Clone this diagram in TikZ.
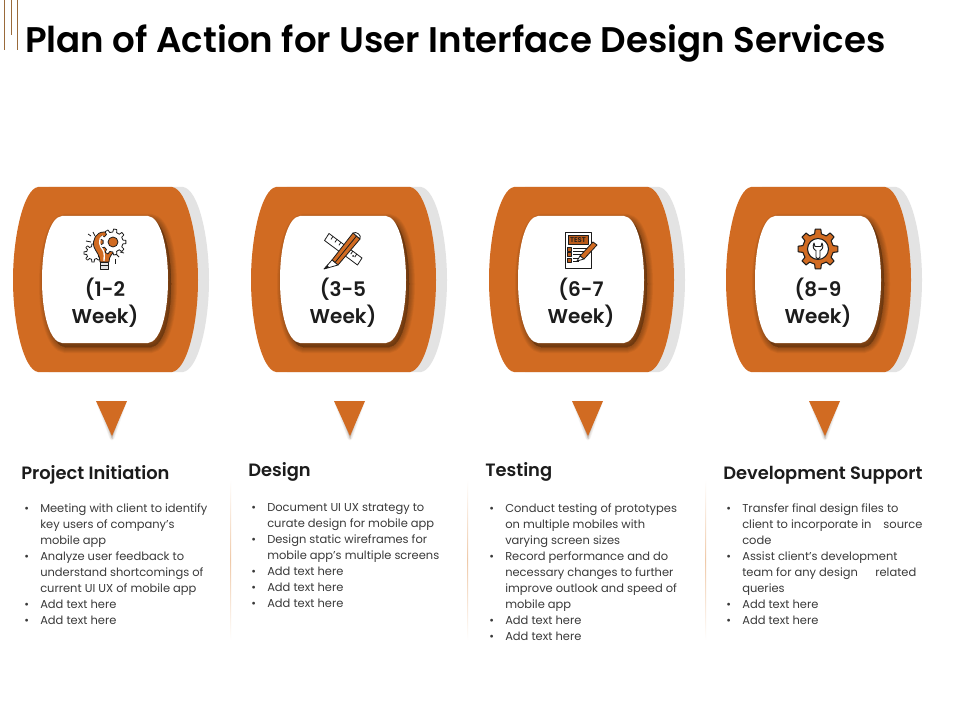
\documentclass[tikz,border=0pt]{standalone}
\usepackage{fontspec}
\usetikzlibrary{calc}
\setmainfont{Poppins}[BoldFont={Poppins SemiBold}]
\definecolor{org}{HTML}{D16B22}
\definecolor{orgd}{HTML}{B85A1A}
\definecolor{shade1}{HTML}{E3E3E3}
\definecolor{shad}{HTML}{4A2A10}
\definecolor{ink}{HTML}{1C1C1C}
\definecolor{txt}{HTML}{3A3A3A}
\definecolor{deco}{HTML}{9A6A3A}
\definecolor{sepc}{HTML}{EFC9A8}
\tikzset{
  x=0.75pt,y=-0.75pt,
  titletext/.style={anchor=base west,inner sep=0,font=\bfseries\fontsize{26.7}{30}\selectfont,text=black},
  headtext/.style={anchor=base west,inner sep=0,font=\fontsize{13.4}{16}\selectfont\bfseries,text=ink},
  weektext/.style={align=center,inner sep=0,font=\bfseries\fontsize{15}{20.2}\selectfont,text=ink},
  bodytext/.style={anchor=north west,inner sep=0,align=left,font=\fontsize{8.6}{12}\selectfont,text=txt},
  iconline/.style={draw=ink,line width=0.6pt,line join=round},
  sepline/.style={draw=none,top color=white,bottom color=white,middle color=sepc},
  decoline/.style={draw=deco,line width=0.6pt},
}
\newcommand\bl[1]{\makebox[12pt][l]{•}#1}
\newcommand\cl[1]{\hspace*{12pt}#1}
\newcommand\outershape{(38,187) -- (172,187) .. controls (187,189) and (198,235) .. (198,280) .. controls (198,325) and (187,370) .. (172,372) -- (38,372) .. controls (24,370) and (13,325) .. (13,280) .. controls (13,235) and (24,189) .. (38,187) -- cycle}
\newcommand\innershape{(62,216) -- (148,216) .. controls (160,217) and (168,245) .. (168,280) .. controls (168,315) and (160,342) .. (148,343) -- (62,343) .. controls (50,342) and (42,315) .. (42,280) .. controls (42,245) and (50,217) .. (62,216) -- cycle}
\newcommand\capsule[3]{%
  \begin{scope}[shift={(#1,0)}]
    \fill[shade1,shift={(11,0)}] \outershape;
    \fill[org] \outershape;
    \foreach \w in {12,10.5,9,7.5,6,4.5,3,1.5,0}{
      \path[fill=shad,draw=shad,fill opacity=0.065,draw opacity=0.065,line width=\w*0.75pt,shift={(3,4)}] \innershape;
    }
    \fill[white] \innershape;
    \node[weektext] (week#2) at (105,302.5) {(#3\\Week)};
    \foreach \w in {5,4,3,2,1,0}{
      \path[fill=shad,draw=shad,fill opacity=0.035,draw opacity=0.035,line width=\w*0.75pt,line join=round] (99,403) -- (124,403) -- (112,438) -- cycle;
    }
    \fill[org] (96,401) -- (127,401) -- (112,436) -- cycle;
  \end{scope}}
% gear: options, centre x, centre y, outer r, inner r, teeth
\newcommand\gearicon[6]{%
  \begin{scope}[shift={(#2,#3)}]
    \pgfmathsetmacro\gstep{360/#6}
    \pgfmathsetmacro\gw{\gstep*0.18}
    \pgfmathsetmacro\gv{\gstep*0.28}
    \draw[#1] (-\gv:#5)
      \foreach \i [evaluate=\i as \a using \i*\gstep] in {1,...,#6}{
        -- (\a-\gstep-\gw:#4) -- (\a-\gstep+\gw:#4) -- (\a-\gstep+\gv:#5) -- (\a-\gv:#5)
      } -- cycle;
  \end{scope}}
\begin{document}
\begin{tikzpicture}
\useasboundingbox (0,0) rectangle (960,720);
\fill[white] (0,0) rectangle (960,720);
% top decoration
\coordinate (d1a) at (4.7,0); \coordinate (d1b) at (4.7,50);
\coordinate (d2a) at (11,0);  \coordinate (d2b) at (11,35);
\coordinate (d3a) at (17,0);  \coordinate (d3b) at (17,50);
\draw[decoline] (d1a) -- (d1b);
\draw[decoline] (d2a) -- (d2b);
\draw[decoline] (d3a) -- (d3b);
\node[titletext] (title) at (25,53) {Plan of Action for User Interface Design Services};
% capsules
\capsule{0}{a}{1-2}
\capsule{238}{b}{3-5}
\capsule{476}{c}{6-7}
\capsule{713}{d}{8-9}
% icon 1: bulb and gears
\gearicon{iconline,fill=white}{93}{253}{9}{6.5}{8}
\draw[iconline,fill=org] (104,232) .. controls (96,232) and (92,240) .. (94,247) .. controls (96,252) and (100,255) .. (100,262) -- (109,262) .. controls (109,256) and (112,254) .. (116,250) -- (114,234) .. controls (111,232) and (107,232) .. (104,232) -- cycle;
\gearicon{iconline,fill=white}{113}{242}{13}{10}{9}
\draw[iconline,fill=org] (113,242) circle (5);
\draw[white,line width=1pt] (103,236) .. controls (97,239) and (100,247) .. (103,250) .. controls (105,253) and (104,258) .. (104,261);
\draw[iconline,fill=shade1] (100.5,262) rectangle (108.5,269);
\draw[iconline] (100.5,265.5) -- (108.5,265.5);
\draw[iconline] (93,232) -- (95,236);
\draw[iconline] (86,241) -- (91,242);
\draw[iconline] (88,234) -- (91,236);
\draw[iconline] (116,254) -- (119,257);
\draw[iconline] (120,252) -- (124,253);
\draw[iconline] (115,259) -- (115,264);
% icon 2: ruler and pencil
\draw[iconline,fill=white] (329,233.5) -- (362,258) -- (357.5,265) -- (324.5,240.5) -- cycle;
\foreach \t in {0.12,0.24,0.36,0.48,0.6,0.72,0.84}{
  \draw[iconline] ($(329,233.5)!\t!(362,258)$) -- ++(-2,3);
}
\fill[ink] (353,256) circle (1);
\draw[iconline,fill=org] (332,260) -- (353,233) -- (360,239) -- (338,265) -- cycle;
\draw[iconline,fill=white] (353,233) .. controls (356,231) and (362,235) .. (360,239) -- cycle;
\draw[iconline,fill=white] (332,260) -- (338,265) -- (324,269) -- cycle;
\draw[iconline] (335,262.5) -- (356.5,236);
\fill[ink] (324,269) -- (327.5,265) -- (329,267.5) -- cycle;
% icon 3: test sheet
\draw[iconline,fill=white] (565,232) rectangle (591,268);
\draw[iconline,fill=orgd] (568,235) rectangle (588,244);
\node[inner sep=0,font=\bfseries\fontsize{5.2}{6}\selectfont,text=ink] (testlabel) at (578,239.7) {TEST};
\foreach \y in {249,254.5,260}{
  \draw[iconline,fill=orgd] (567,\y-2) rectangle (571,\y+2);
}
\draw[iconline] (573,248) -- (589,248);
\draw[iconline] (573,251) -- (586,251);
\draw[iconline] (573,254.5) -- (583,254.5);
\draw[iconline] (573,258) -- (581,258);
\draw[iconline] (573,261) -- (579,261);
\draw[iconline,fill=org] (593,242) -- (597,245) -- (584,259) -- (580,256) -- cycle;
\draw[iconline,fill=white] (580,256) -- (584,259) -- (577,261) -- cycle;
% icon 4: gear and wrench
\gearicon{iconline,fill=org,line width=0.8pt}{818}{249}{20}{15.5}{8}
\draw[iconline,fill=white,line width=0.8pt] (818,249) circle (10.5);
\draw[ink,fill=white,line width=0.7pt,line join=round] (814,243) .. controls (812,247) and (814,250) .. (816,250.5) -- (816,257) .. controls (816,259) and (820,259) .. (820,257) -- (820,250.5) .. controls (822,250) and (824,247) .. (822,243) -- (821,246.5) -- (815,246.5) -- cycle;
% separators
\path[sepline] (230,480) rectangle (231,640);
\path[sepline] (467,480) rectangle (468,640);
\path[sepline] (705,480) rectangle (706,640);
% headings
\node[headtext] (h1) at (21,479) {Project Initiation};
\node[headtext] (h2) at (248,476) {Design};
\node[headtext] (h3) at (485,476) {Testing};
\node[headtext] (h4) at (723,479) {Development Support};
% body
\node[bodytext] (b1) at (24,503.5) {\bl{Meeting with client to identify}\\\cl{key users of company’s}\\\cl{mobile app}\\\bl{Analyze user feedback to}\\\cl{understand shortcomings of}\\\cl{current UI UX of mobile app}\\\bl{Add text here}\\\bl{Add text here}};
\node[bodytext] (b2) at (251,503.5) {\bl{Document UI UX strategy to}\\\cl{curate design for mobile app}\\\bl{Design static wireframes for}\\\cl{mobile app’s multiple screens}\\\bl{Add text here}\\\bl{Add text here}\\\bl{Add text here}};
\node[bodytext] (b3) at (489,503.5) {\bl{Conduct testing of prototypes}\\\cl{on multiple mobiles with}\\\cl{varying screen sizes}\\\bl{Record performance  and do}\\\cl{necessary changes to further}\\\cl{improve outlook and speed of}\\\cl{mobile app}\\\bl{Add text here}\\\bl{Add text here}};
\node[bodytext] (b4) at (726,503.5) {\bl{Transfer final design files to}\\\cl{client to incorporate in\hspace{9pt}source}\\\cl{code}\\\bl{Assist client’s development}\\\cl{team for any design\hspace{13pt}related}\\\cl{queries}\\\bl{Add text here}\\\bl{Add text here}};
\end{tikzpicture}
\end{document}
